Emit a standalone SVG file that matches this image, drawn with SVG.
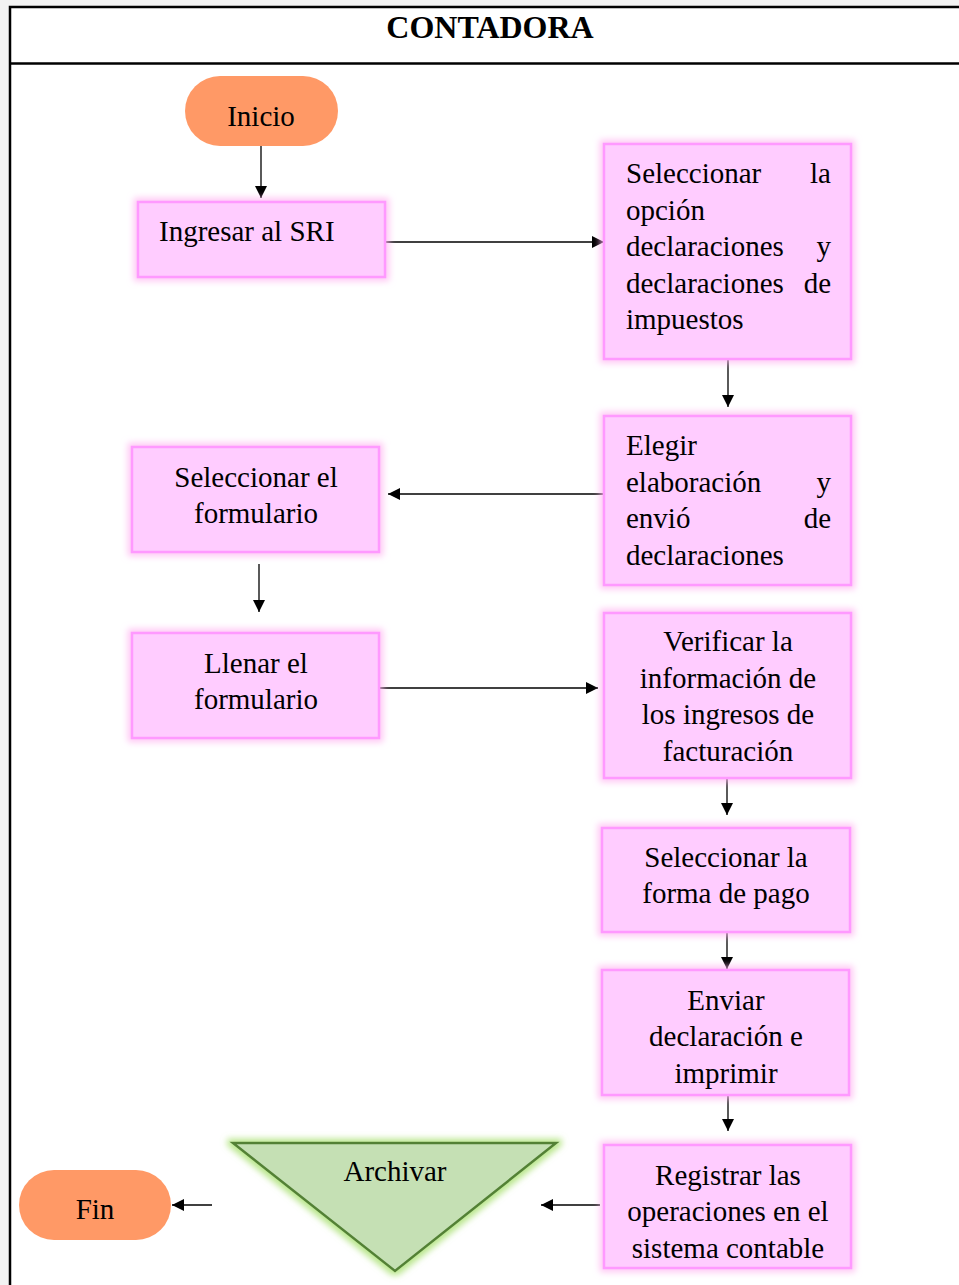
<svg xmlns="http://www.w3.org/2000/svg" width="959" height="1285" viewBox="0 0 959 1285">
<defs>
<style>
.t{font-family:"Liberation Serif","Times New Roman",serif;font-size:29px;fill:#000}
.c{text-anchor:middle}
.e{text-anchor:end}
.title{font-size:32px;font-weight:bold}
.box{fill:#ffccff;stroke:#ff99ff;stroke-width:2.5}
.term{fill:#ff9966}
.ln{stroke:#000;stroke-width:1.3;fill:none;marker-end:url(#ah)}
</style>
<filter id="glow" x="-20%" y="-20%" width="140%" height="140%">
<feMorphology in="SourceAlpha" operator="dilate" radius="3" result="d"/>
<feGaussianBlur in="d" stdDeviation="3" result="b"/>
<feFlood flood-color="#ffb0f0" flood-opacity="0.7"/>
<feComposite in2="b" operator="in" result="g"/>
<feMerge><feMergeNode in="g"/><feMergeNode in="SourceGraphic"/></feMerge>
</filter>
<filter id="glowg" x="-20%" y="-20%" width="140%" height="140%">
<feMorphology in="SourceAlpha" operator="dilate" radius="3" result="d"/>
<feGaussianBlur in="d" stdDeviation="3" result="b"/>
<feFlood flood-color="#a8e070" flood-opacity="0.8"/>
<feComposite in2="b" operator="in" result="g"/>
<feMerge><feMergeNode in="g"/><feMergeNode in="SourceGraphic"/></feMerge>
</filter>
<marker id="ah" viewBox="0 0 12 12" refX="12" refY="6" markerWidth="12" markerHeight="12" markerUnits="userSpaceOnUse" orient="auto">
<path d="M0,0 L12,6 L0,12 z" fill="#000"/>
</marker>
</defs>
<rect x="0" y="0" width="959" height="1285" fill="#f2f2f2"/>
<rect x="10" y="7" width="960" height="1290" fill="#fff"/>
<g id="frame" stroke="#000" stroke-width="2.5" fill="none">
<path d="M10,1285 V7 H959"/>
<path d="M10,63.5 H959"/>
</g>
<text class="t c title" x="490" y="38">CONTADORA</text>

<g id="connectors">
<path class="ln" d="M261,138 V198"/>
<path class="ln" d="M386,242 H604"/>
<path class="ln" d="M728,360 V407"/>
<path class="ln" d="M604,494 H388"/>
<path class="ln" d="M259,564 V612"/>
<path class="ln" d="M380,688 H598"/>
<path class="ln" d="M727,779 V815"/>
<path class="ln" d="M727,933 V969"/>
<path class="ln" d="M728,1095 V1131"/>
<path class="ln" d="M600,1205 H541"/>
<path class="ln" d="M212,1205 H172"/>
</g>

<g id="inicio">
<rect class="term" x="185" y="76" width="153" height="70" rx="35"/>
<text class="t c" x="261" y="126">Inicio</text>
</g>

<g id="ingresar">
<rect class="box" x="138" y="202" width="247" height="75" filter="url(#glow)"/>
<text class="t" x="159" y="241">Ingresar al SRI</text>
</g>

<g id="seleccionar-opcion">
<rect class="box" x="604" y="144" width="247" height="215" filter="url(#glow)"/>
<text class="t" x="626" y="183">Seleccionar</text><text class="t e" x="831" y="183">la</text>
<text class="t" x="626" y="220">opción</text>
<text class="t" x="626" y="256">declaraciones</text><text class="t e" x="831" y="256">y</text>
<text class="t" x="626" y="293">declaraciones</text><text class="t e" x="831" y="293">de</text>
<text class="t" x="626" y="329">impuestos</text>
</g>

<g id="elegir">
<rect class="box" x="604" y="416" width="247" height="169" filter="url(#glow)"/>
<text class="t" x="626" y="455">Elegir</text>
<text class="t" x="626" y="492">elaboración</text><text class="t e" x="831" y="492">y</text>
<text class="t" x="626" y="528">envió</text><text class="t e" x="831" y="528">de</text>
<text class="t" x="626" y="565">declaraciones</text>
</g>

<g id="seleccionar-formulario">
<rect class="box" x="132" y="447" width="247" height="105" filter="url(#glow)"/>
<text class="t c" x="256" y="487">Seleccionar el</text>
<text class="t c" x="256" y="523">formulario</text>
</g>

<g id="llenar">
<rect class="box" x="132" y="633" width="247" height="105" filter="url(#glow)"/>
<text class="t c" x="256" y="673">Llenar el</text>
<text class="t c" x="256" y="709">formulario</text>
</g>

<g id="verificar">
<rect class="box" x="604" y="613" width="247" height="165" filter="url(#glow)"/>
<text class="t c" x="728" y="651">Verificar la</text>
<text class="t c" x="728" y="688">información de</text>
<text class="t c" x="728" y="724">los ingresos de</text>
<text class="t c" x="728" y="761">facturación</text>
</g>

<g id="forma-pago">
<rect class="box" x="602" y="828" width="248" height="104" filter="url(#glow)"/>
<text class="t c" x="726" y="867">Seleccionar la</text>
<text class="t c" x="726" y="903">forma de pago</text>
</g>

<g id="enviar">
<rect class="box" x="602" y="970" width="247" height="125" filter="url(#glow)"/>
<text class="t c" x="726" y="1010">Enviar</text>
<text class="t c" x="726" y="1046">declaración e</text>
<text class="t c" x="726" y="1083">imprimir</text>
</g>

<g id="registrar">
<rect class="box" x="604" y="1145" width="247" height="123" filter="url(#glow)"/>
<text class="t c" x="728" y="1185">Registrar las</text>
<text class="t c" x="728" y="1221">operaciones en el</text>
<text class="t c" x="728" y="1258">sistema contable</text>
</g>

<g id="archivar">
<polygon points="233,1143 556,1143 395,1271" fill="#c5e0b4" stroke="#538135" stroke-width="2.5" filter="url(#glowg)"/>
<text class="t c" x="395" y="1181">Archivar</text>
</g>

<g id="fin">
<rect class="term" x="19" y="1170" width="152" height="70" rx="35"/>
<text class="t c" x="95" y="1219">Fin</text>
</g>
</svg>
